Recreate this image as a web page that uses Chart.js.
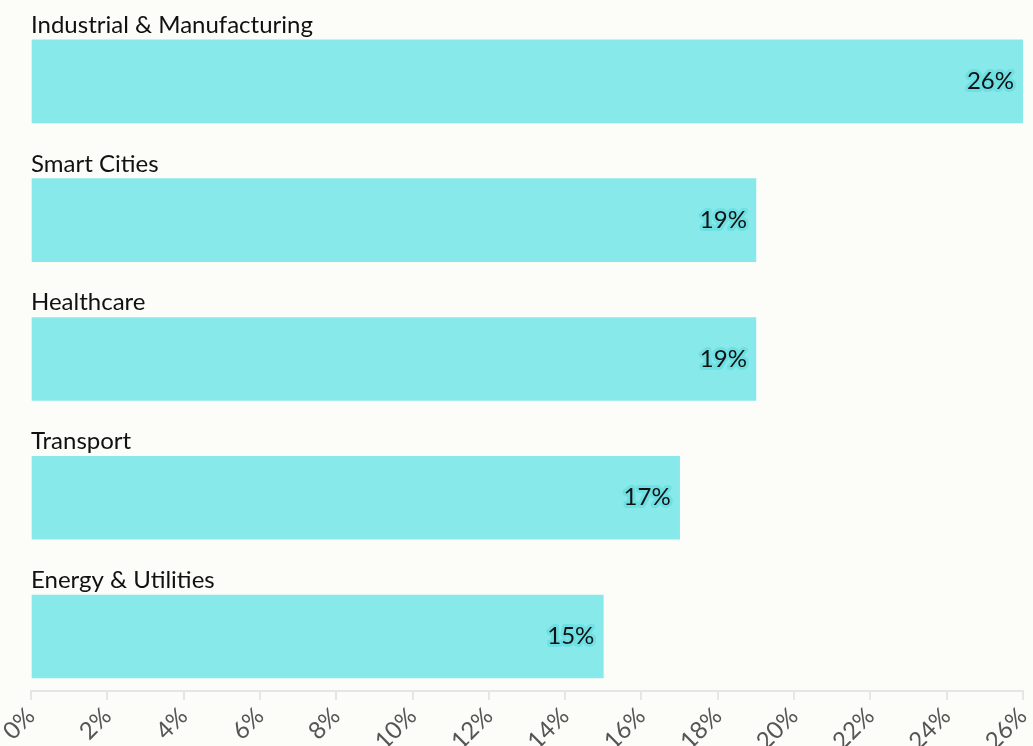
<!DOCTYPE html>
<html>
<head>
<meta charset="utf-8">
<script src="https://cdn.jsdelivr.net/npm/chart.js@4/dist/chart.umd.min.js"></script>
<style>
  html, body { margin: 0; padding: 0; background: #fcfdf9; }
  #wrap { width: 1033px; height: 746px; position: relative; }
</style>
</head>
<body>
<div id="wrap"><canvas id="chart"></canvas></div>
<script>
  // Share of deployments by sector (%)
  const sectors = ["Industrial & Manufacturing", "Smart Cities", "Healthcare", "Transport", "Energy & Utilities"];
  const shares = [26, 19, 19, 17, 15];
  const xTicks = [0, 2, 4, 6, 8, 10, 12, 14, 16, 18, 20, 22, 24, 26];

  const BAR = "#87e9ea";
  const HALO = "#6ee0e4";
  const FONT = "Lato, 'Noto Sans', sans-serif";

  // sector name above each bar, value inside its right end
  const barLabels = {
    id: "barLabels",
    afterDatasetsDraw(chart) {
      const ctx = chart.ctx;
      const meta = chart.getDatasetMeta(0);
      const left = chart.chartArea.left;
      ctx.save();
      ctx.font = "24px " + FONT;
      meta.data.forEach((bar, i) => {
        const top = bar.y - bar.height / 2;
        ctx.fillStyle = "#111";
        ctx.textAlign = "left";
        ctx.textBaseline = "alphabetic";
        ctx.fillText(sectors[i], left, top - 7);

        const txt = shares[i] + "%";
        ctx.textAlign = "right";
        ctx.textBaseline = "middle";
        ctx.lineJoin = "round";
        ctx.lineWidth = 6;
        ctx.strokeStyle = HALO;
        ctx.strokeText(txt, bar.x - 9, bar.y);
        ctx.fillStyle = "#111";
        ctx.fillText(txt, bar.x - 9, bar.y);
      });
      ctx.restore();
    }
  };

  new Chart(document.getElementById("chart"), {
    type: "bar",
    data: {
      datasets: [{
        data: shares.map((v, i) => ({ x: v, y: i })),
        backgroundColor: BAR,
        borderWidth: 0,
        barThickness: 83
      }]
    },
    options: {
      indexAxis: "y",
      responsive: true,
      maintainAspectRatio: false,
      animation: false,
      layout: { padding: { left: 31, right: 10, top: 0, bottom: 0 } },
      plugins: { legend: { display: false }, tooltip: { enabled: false } },
      scales: {
        // band positions 0..4, top edge a little above the first bar
        y: {
          type: "linear",
          reverse: true,
          offset: false,
          bounds: "data",
          grace: 0,
          display: false,
          afterDataLimits(scale) {
            scale.min = -0.587;
            scale.max = 4.393;
          },
          afterBuildTicks(scale) {
            scale.ticks = sectors.map((s, i) => ({ value: i }));
          }
        },
        x: {
          type: "linear",
          min: 0,
          max: 26,
          afterBuildTicks(scale) {
            scale.ticks = xTicks.map(v => ({ value: v }));
          },
          afterFit(scale) {
            scale.paddingLeft = 0;
            scale.paddingRight = 0;
            scale.height = 55;
          },
          grid: {
            drawOnChartArea: false,
            drawTicks: true,
            tickLength: 9,
            color: "#e6e6e6",
            lineWidth: 2
          },
          border: { color: "#e6e6e6", width: 2 },
          ticks: {
            minRotation: 45,
            maxRotation: 45,
            padding: 2,
            color: "#555",
            font: { family: FONT, size: 24 },
            callback: v => v + "%"
          }
        }
      }
    },
    plugins: [barLabels]
  });
</script>
</body>
</html>
